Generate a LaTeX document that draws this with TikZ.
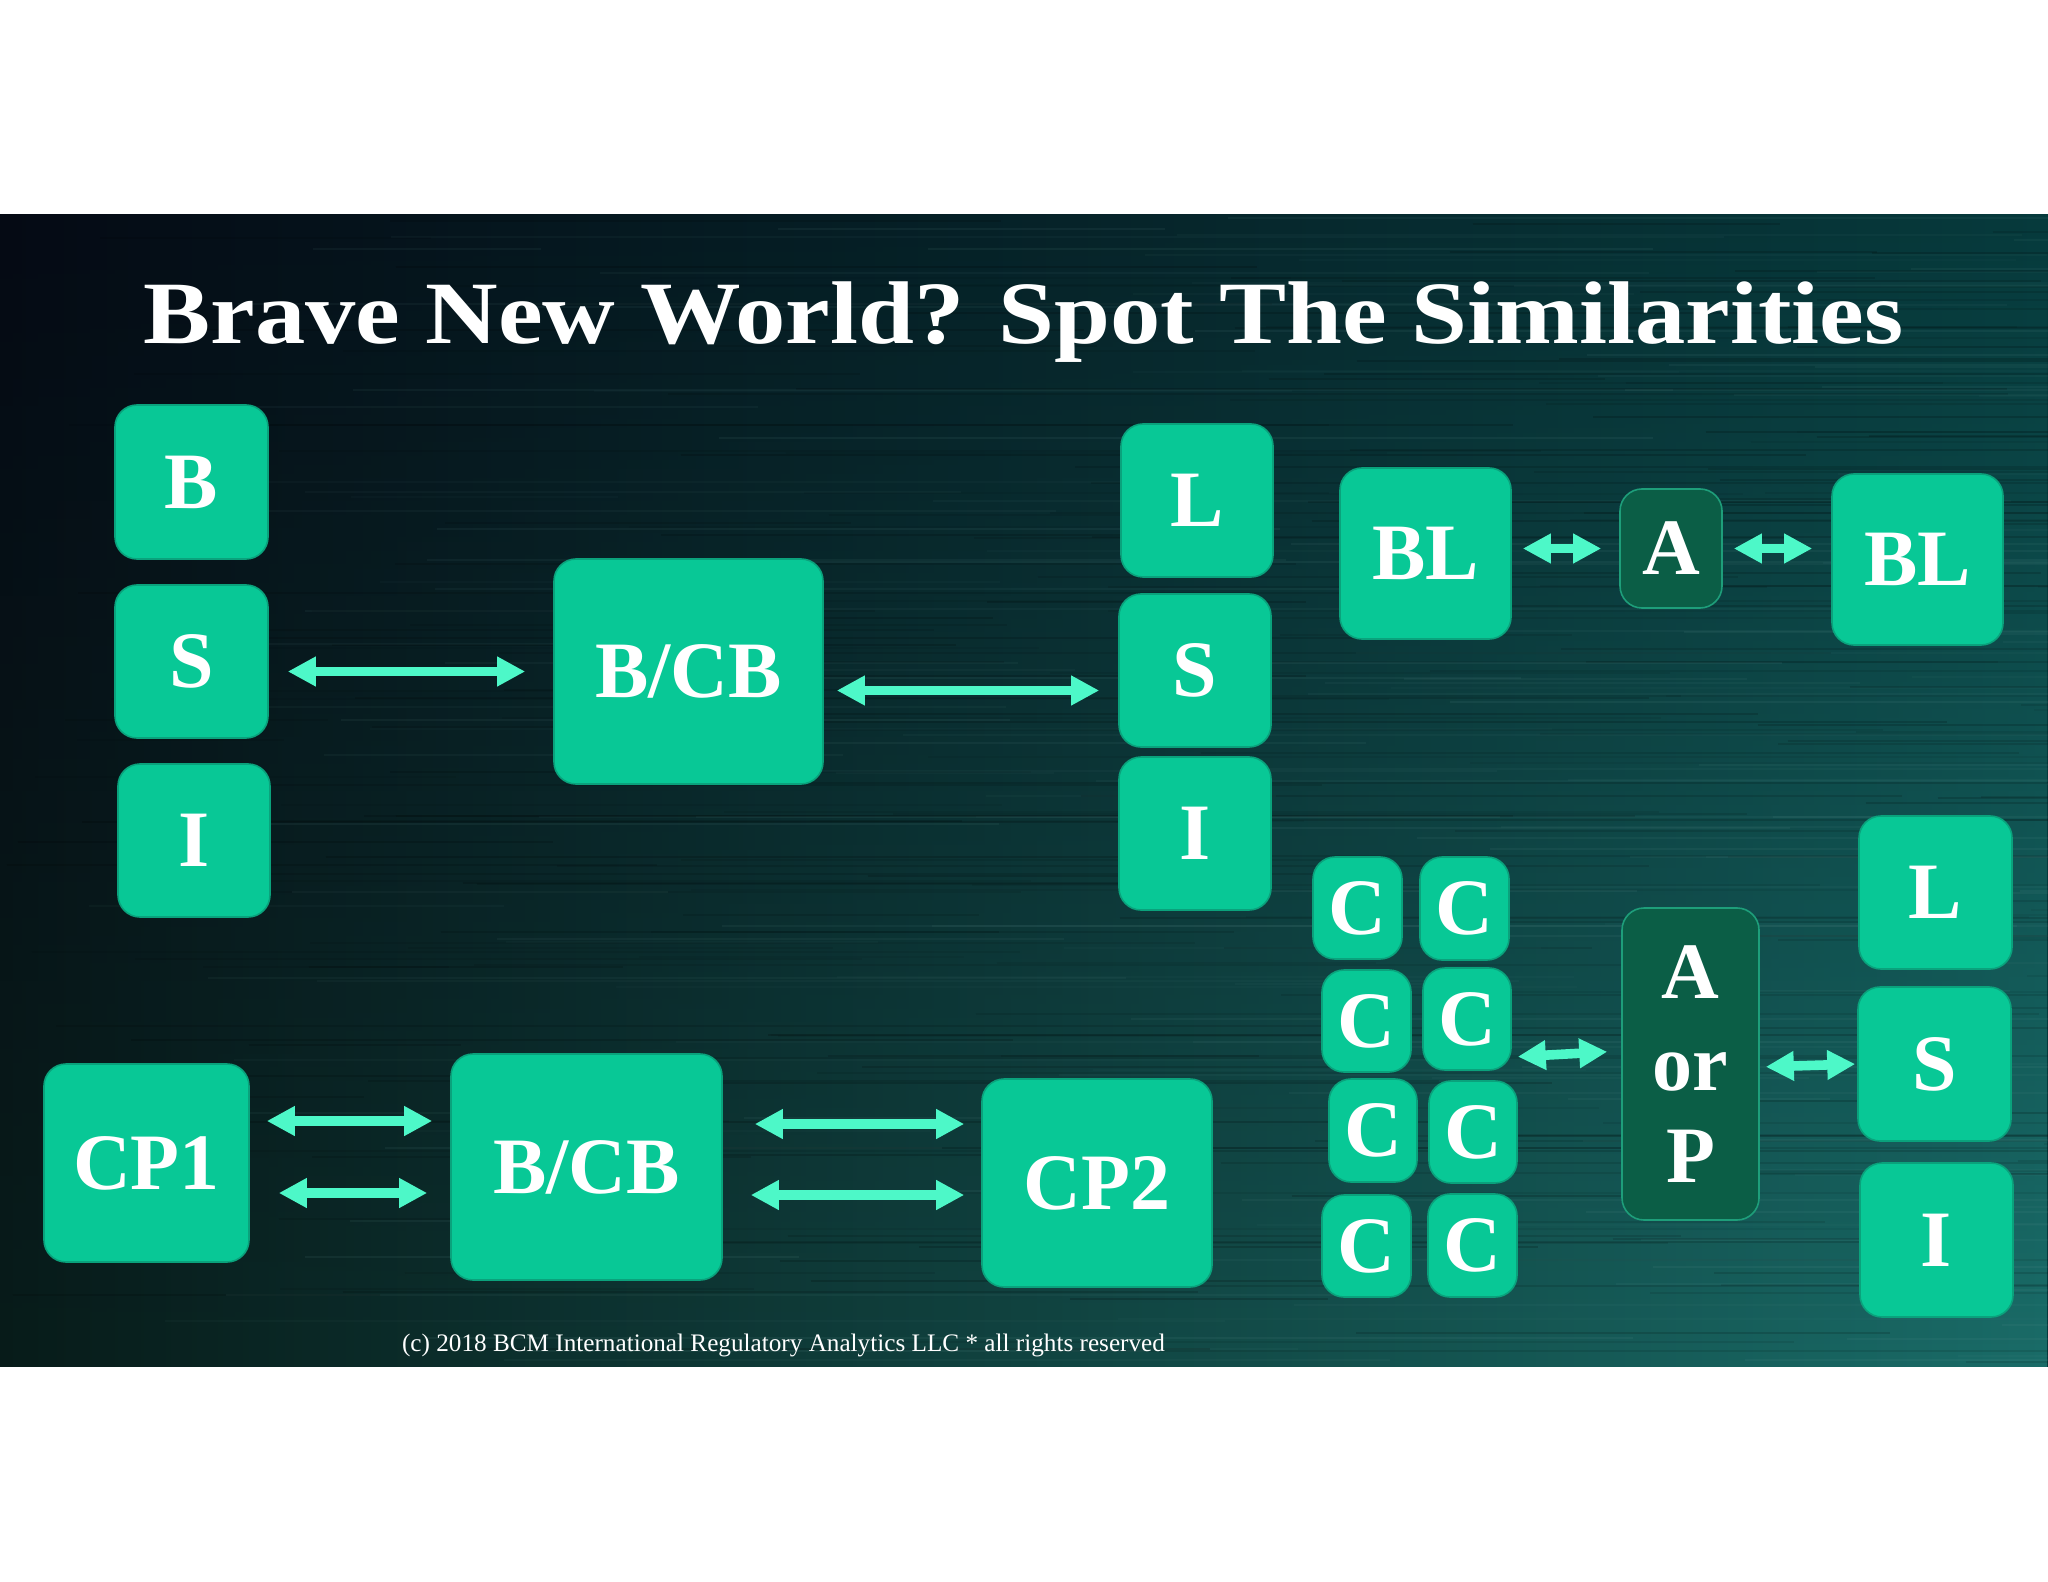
\documentclass[tikz,border=0pt]{standalone}
\usepackage{fontspec}
\setmainfont{Liberation Serif}
\usetikzlibrary{arrows.meta,fadings,calc}
\definecolor{boxfill}{HTML}{08C896}
\definecolor{boxline}{HTML}{0AA27C}
\definecolor{darkfill}{HTML}{0B5E46}
\definecolor{darkline}{HTML}{1E9E7A}
\definecolor{arrowc}{HTML}{4DF8C8}
\definecolor{bgTL}{HTML}{050A14}
\definecolor{bgTR}{HTML}{063A3C}
\definecolor{bgBL}{HTML}{081C1A}
\definecolor{bgBR}{HTML}{1A6C68}
\tikzset{
  box/.style={rectangle, rounded corners=11pt, fill=boxfill, draw=boxline, line width=0.8pt,
    text=white, font=\bfseries\fontsize{40}{46}\selectfont, inner sep=0pt, text depth=0pt},
  darkbox/.style={box, fill=darkfill, draw=darkline},
  link/.style={{Triangle[length=14pt,width=14pt]}-{Triangle[length=14pt,width=14pt]},
    line width=4.8pt, draw=arrowc},
  streak/.style={line width=1pt},
}
\newcommand\tbox[7]{\node[#1, minimum width={(#5-#3)*0.5pt}, minimum height={(#6-#4)*0.5pt}] (#2) at ({(#3+#5)/2},{(#4+#6)/2}) {#7};}
\begin{document}
\begin{tikzpicture}[x=0.5pt,y=-0.5pt]
\useasboundingbox (0,0) rectangle (2048,1582);
\fill[white] (0,0) rectangle (2048,1582);
% background band
\shade[left color=bgTL, right color=bgTR] (0,215) rectangle (2048,1366);
\shade[left color=bgBL, right color=bgBR, path fading=north] (0,215) rectangle (2048,1366);
\begin{scope}
\clip (0,215) rectangle (2048,1366);
\pgfmathsetseed{7}
\foreach \i in {1,...,260}{
  \pgfmathsetmacro\yy{216+rnd*1148}
  \pgfmathsetmacro\xa{rnd*2048}
  \pgfmathsetmacro\len{200+rnd*1200}
  \pgfmathsetmacro\op{0.05+rnd*0.12}
  \draw[streak, black, opacity=\op] (\xa,\yy) -- ++(\len,0);
}
\foreach \i in {1,...,160}{
  \pgfmathsetmacro\yy{216+rnd*1148}
  \pgfmathsetmacro\xa{rnd*2048}
  \pgfmathsetmacro\len{200+rnd*1200}
  \pgfmathsetmacro\op{0.03+rnd*0.06}
  \draw[streak, bgBR!60!white, opacity=\op] (\xa,\yy) -- ++(\len,0);
}
\end{scope}
% title
\node[anchor=base, text=white, inner sep=0pt, font=\bfseries\fontsize{44.5}{50}\selectfont] (title) at (1023.5,344)
  {\scalebox{1.13}[1]{Brave New World? Spot The Similarities}};
% left group
\tbox{box}{B1}{115}{405}{268}{559}{B}
\tbox{box}{S1}{115}{585}{268}{738}{S}
\tbox{box}{I1}{118}{764}{270}{917}{I}
\tbox{box}{BCB1}{554}{559}{823}{784}{B/CB}
\tbox{box}{L2}{1121}{424}{1273}{577}{L}
\tbox{box}{S2}{1119}{594}{1271}{747}{S}
\tbox{box}{I2}{1119}{757}{1271}{910}{I}
% BL row
\tbox{box}{BL1}{1340}{468}{1511}{639}{BL}
\tbox{darkbox}{A1}{1620}{489}{1722}{608}{A}
\tbox{box}{BL2}{1832}{474}{2003}{645}{BL}
% C grid
\tbox{box}{C11}{1313}{857}{1402}{959}{C}
\tbox{box}{C12}{1420}{857}{1509}{960}{C}
\tbox{box}{C21}{1322}{970}{1411}{1072}{C}
\tbox{box}{C22}{1423}{968}{1511}{1070}{C}
\tbox{box}{C31}{1329}{1079}{1417}{1182}{C}
\tbox{box}{C32}{1429}{1081}{1517}{1183}{C}
\tbox{box}{C41}{1322}{1195}{1411}{1297}{C}
\tbox{box}{C42}{1428}{1194}{1517}{1297}{C}
\node[darkbox, text depth=, align=center, minimum width=68.5pt, minimum height=156pt] (AP) at (1690.5,1064) {A\\or\\P};
\tbox{box}{L3}{1859}{816}{2012}{969}{L}
\tbox{box}{S3}{1858}{987}{2011}{1141}{S}
\tbox{box}{I3}{1860}{1163}{2013}{1317}{I}
% bottom group
\tbox{box}{CP1}{44}{1064}{249}{1262}{CP1}
\tbox{box}{BCB2}{451}{1054}{722}{1280}{B/CB}
\tbox{box}{CP2}{982}{1079}{1212}{1287}{CP2}
% connectors
\draw[link, shorten <=9.5pt, shorten >=14pt] (S1.east |- BCB1.west) -- (BCB1.west);
\draw[link, shorten <=6.5pt, shorten >=9.5pt] ([yshift=-9.5pt]BCB1.east) -- ([yshift=-9.5pt]BCB1.east -| S2.west);
\draw[link, shorten <=5.5pt, shorten >=9pt] (BL1.east |- A1.west) -- (A1.west);
\draw[link, shorten <=5.5pt, shorten >=9.5pt] (A1.east) -- (A1.east -| BL2.west);
\draw[link, shorten <=8.5pt, shorten >=9pt] ([yshift=21pt]CP1.east) -- ([yshift=21pt]CP1.east -| BCB2.west);
\draw[link, shorten <=14.5pt, shorten >=11.5pt] ([yshift=-15pt]CP1.east) -- ([yshift=-15pt]CP1.east -| BCB2.west);
\draw[link, shorten <=16pt, shorten >=8.5pt] ([yshift=21.5pt]BCB2.east) -- ([yshift=21.5pt]BCB2.east -| CP2.west);
\draw[link, shorten <=14pt, shorten >=8.5pt] ([yshift=-14pt]BCB2.east) -- ([yshift=-14pt]BCB2.east -| CP2.west);
\draw[link, shorten <=3pt, shorten >=7pt] ([yshift=-19pt]C22.east) -- ([yshift=6.5pt]AP.west);
\draw[link, shorten <=3pt, shorten >=1pt] ([yshift=-1.5pt]AP.east) -- (S3.west);
% footer
\node[anchor=base, text=white, inner sep=0pt, font=\fontsize{12.6}{14}\selectfont] (copy) at (783.5,1351)
  {(c) 2018 BCM International Regulatory Analytics LLC * all rights reserved};
\end{tikzpicture}
\end{document}
